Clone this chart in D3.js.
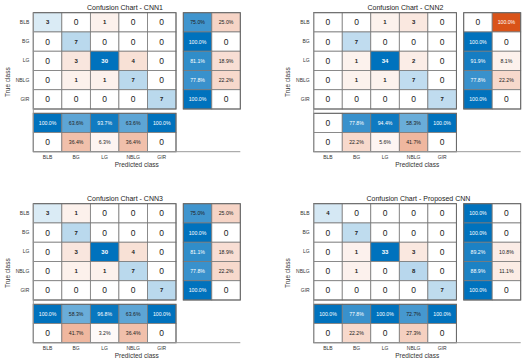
<!DOCTYPE html>
<html>
<head>
<meta charset="utf-8">
<script src="https://cdn.jsdelivr.net/npm/d3@7"></script>
<style>
  html, body { margin: 0; padding: 0; background: #fff; }
  svg { display: block; font-family: "Liberation Sans", Arial, sans-serif; }
</style>
</head>
<body>
<div id="chart"></div>
<script>
// ---------------- data ----------------
const classes = ["BLB", "BG", "LG", "NBLG", "GIR"];
const titles = ["Confusion Chart - CNN1", "Confusion Chart - CNN2", "Confusion Chart - CNN3", "Confusion Chart - Proposed CNN"];
const xLabel = "Predicted class";
const yLabel = "True class";

// confusion matrices (rows = true class, cols = predicted class)
const cnn1 = [[3,0,1,0,0],[0,7,0,0,0],[0,3,30,4,0],[0,1,1,7,0],[0,0,0,0,7]];
const cnn2 = [[0,0,1,3,0],[0,7,0,0,0],[0,1,34,2,0],[0,1,1,7,0],[0,0,0,0,7]];
const cnn3 = [[3,1,0,0,0],[0,7,0,0,0],[0,3,30,4,0],[0,1,1,7,0],[0,0,0,0,7]];
const cnnP = [[4,0,0,0,0],[0,7,0,0,0],[0,1,33,3,0],[0,1,0,8,0],[0,0,0,0,7]];

// row summaries (correct %, incorrect %)
const cnn1Row = [[75.0,25.0],[100,0],[81.1,18.9],[77.8,22.2],[100,0]];
const cnn2Row = [[0,100],[100,0],[91.9,8.1],[77.8,22.2],[100,0]];
const cnn3Row = [[75.0,25.0],[100,0],[81.1,18.9],[77.8,22.2],[100,0]];
const cnnPRow = [[100,0],[100,0],[89.2,10.8],[88.9,11.1],[100,0]];

// column summaries (correct %, incorrect %)
const cnn1Col = [[100,0],[63.6,36.4],[93.7,6.3],[63.6,36.4],[100,0]];
const cnn2Col = [[0,0],[77.8,22.2],[94.4,5.6],[58.3,41.7],[100,0]];
const cnn3Col = [[100,0],[58.3,41.7],[96.8,3.2],[63.6,36.4],[100,0]];
const cnnPCol = [[100,0],[77.8,22.2],[100,0],[72.7,27.3],[100,0]];

const matrices = [cnn1, cnn2, cnn3, cnnP];
const rowSummaries = [cnn1Row, cnn2Row, cnn3Row, cnnPRow];
const colSummaries = [cnn1Col, cnn2Col, cnn3Col, cnnPCol];

// ---------------- layout ----------------
const W = 524, H = 362;
const panelOffsets = [[0,0],[280.4,0],[0,191],[280.4,191]];
const titleCenters = [125, 125, 125, 138];
const gx0 = 33.3, gw = 142.7, gy0 = 12.7, gh = 96.3;
const rx0 = 183.3, rw = 57;
const by0 = 113.3, bh = 38.4;

const blue = "#0072BD", orange = "#D95319";
const gridStroke = "#7a7a7a";

const svg = d3.select("#chart").append("svg").attr("width", W).attr("height", H);

const xMain = d3.scaleBand().domain(classes).range([gx0, gx0 + gw]);
const yMain = d3.scaleBand().domain(classes).range([gy0, gy0 + gh]);
const xRight = d3.scaleBand().domain([0, 1]).range([rx0, rx0 + rw]);
const yBottom = d3.scaleBand().domain([0, 1]).range([by0, by0 + bh]);

const fmtPct = v => v === 0 ? "0" : v.toFixed(1) + "%";

matrices.forEach((mat, p) => {
  const [ox, oy] = panelOffsets[p];
  const g = svg.append("g").attr("transform", `translate(${ox},${oy})`);
  const maxV = d3.max(mat.flat());
  const cells = [];
  mat.forEach((row, i) => row.forEach((v, j) => cells.push({ i, j, v })));

  const colMain = d => {
    const t = d.v === 0 ? 0 : 0.05 + 0.95 * d.v / maxV;
    return d3.interpolateRgb("#ffffff", d.i === d.j ? blue : orange)(t);
  };

  // main grid
  const mg = g.append("g");
  mg.selectAll("rect").data(cells).join("rect")
    .attr("x", d => xMain(classes[d.j]))
    .attr("y", d => yMain(classes[d.i]))
    .attr("width", xMain.bandwidth())
    .attr("height", yMain.bandwidth())
    .attr("fill", colMain)
    .attr("stroke", gridStroke).attr("stroke-width", 0.8);
  mg.selectAll("text").data(cells).join("text")
    .attr("x", d => xMain(classes[d.j]) + xMain.bandwidth() / 2)
    .attr("y", d => yMain(classes[d.i]) + yMain.bandwidth() / 2)
    .attr("text-anchor", "middle").attr("dominant-baseline", "central")
    .attr("font-size", d => d.v === 0 ? 8.5 : 6)
    .attr("font-weight", d => d.v === 0 ? "normal" : "bold")
    .attr("fill", d => (d.v / maxV > 0.6) ? "#fff" : "#222")
    .text(d => d.v);

  // right summary
  const rcells = [];
  rowSummaries[p].forEach((r, i) => r.forEach((v, k) => rcells.push({ i, k, v })));
  const rg = g.append("g");
  rg.selectAll("rect").data(rcells).join("rect")
    .attr("x", d => xRight(d.k))
    .attr("y", d => yMain(classes[d.i]))
    .attr("width", xRight.bandwidth())
    .attr("height", yMain.bandwidth())
    .attr("fill", d => d3.interpolateRgb("#ffffff", d.k === 0 ? blue : orange)(d.v / 100))
    .attr("stroke", gridStroke).attr("stroke-width", 0.8);
  rg.selectAll("text").data(rcells).join("text")
    .attr("x", d => xRight(d.k) + xRight.bandwidth() / 2)
    .attr("y", d => yMain(classes[d.i]) + yMain.bandwidth() / 2)
    .attr("text-anchor", "middle").attr("dominant-baseline", "central")
    .attr("font-size", d => d.v === 0 ? 8.5 : 5.2)
    .attr("fill", d => d.v / 100 > 0.76 ? "#fff" : "#222")
    .text(d => fmtPct(d.v));

  // bottom summary
  const bcells = [];
  colSummaries[p].forEach((c, j) => c.forEach((v, k) => bcells.push({ j, k, v })));
  const bg = g.append("g");
  bg.selectAll("rect").data(bcells).join("rect")
    .attr("x", d => xMain(classes[d.j]))
    .attr("y", d => yBottom(d.k))
    .attr("width", xMain.bandwidth())
    .attr("height", yBottom.bandwidth())
    .attr("fill", d => d3.interpolateRgb("#ffffff", d.k === 0 ? blue : orange)(d.v / 100))
    .attr("stroke", gridStroke).attr("stroke-width", 0.8);
  bg.selectAll("text").data(bcells).join("text")
    .attr("x", d => xMain(classes[d.j]) + xMain.bandwidth() / 2)
    .attr("y", d => yBottom(d.k) + yBottom.bandwidth() / 2)
    .attr("text-anchor", "middle").attr("dominant-baseline", "central")
    .attr("font-size", d => d.v === 0 ? 8.5 : 5.2)
    .attr("fill", d => d.v / 100 > 0.76 ? "#fff" : "#222")
    .text(d => fmtPct(d.v));

  // outer borders
  g.append("rect").attr("x", gx0).attr("y", gy0).attr("width", gw).attr("height", gh)
    .attr("fill", "none").attr("stroke", "#666").attr("stroke-width", 1);
  g.append("rect").attr("x", rx0).attr("y", gy0).attr("width", rw).attr("height", gh)
    .attr("fill", "none").attr("stroke", "#666").attr("stroke-width", 1);
  g.append("rect").attr("x", gx0).attr("y", by0).attr("width", gw).attr("height", bh)
    .attr("fill", "none").attr("stroke", "#666").attr("stroke-width", 1);

  // x axis
  const xAxis = d3.axisBottom(xMain).tickSize(0).tickPadding(4);
  const xa = g.append("g").attr("transform", `translate(0,${by0 + bh})`).call(xAxis);
  xa.select(".domain").remove();
  xa.selectAll("text").attr("font-size", 5).attr("fill", "#333").attr("font-family", "Liberation Sans, Arial, sans-serif");
  g.append("line").attr("x1", gx0).attr("x2", rx0 + rw)
    .attr("y1", by0 + bh).attr("y2", by0 + bh)
    .attr("stroke", "#999").attr("stroke-width", 1);
  g.append("line").attr("x1", gx0).attr("x2", gx0)
    .attr("y1", gy0).attr("y2", by0 + bh)
    .attr("stroke", "#999").attr("stroke-width", 1);

  // y axis tick labels
  const yAxis = d3.axisLeft(yMain).tickSize(0).tickPadding(4);
  const ya = g.append("g").attr("transform", `translate(${gx0},0)`).call(yAxis);
  ya.select(".domain").remove();
  ya.selectAll("text").attr("font-size", 5).attr("fill", "#333").attr("font-family", "Liberation Sans, Arial, sans-serif");

  // labels
  g.append("text").attr("x", (gx0 + rx0 + rw) / 2).attr("y", by0 + bh + 15.5)
    .attr("text-anchor", "middle").attr("font-size", 6.5).attr("fill", "#333").text(xLabel);
  g.append("text").attr("transform", `translate(9.5,${(gy0 + by0 + bh) / 2}) rotate(-90)`)
    .attr("text-anchor", "middle").attr("font-size", 6.5).attr("fill", "#333").text(yLabel);
  g.append("text").attr("x", titleCenters[p]).attr("y", gy0 - 2.5)
    .attr("text-anchor", "middle").attr("font-size", 7).attr("fill", "#222").text(titles[p]);
});
</script>
</body>
</html>
